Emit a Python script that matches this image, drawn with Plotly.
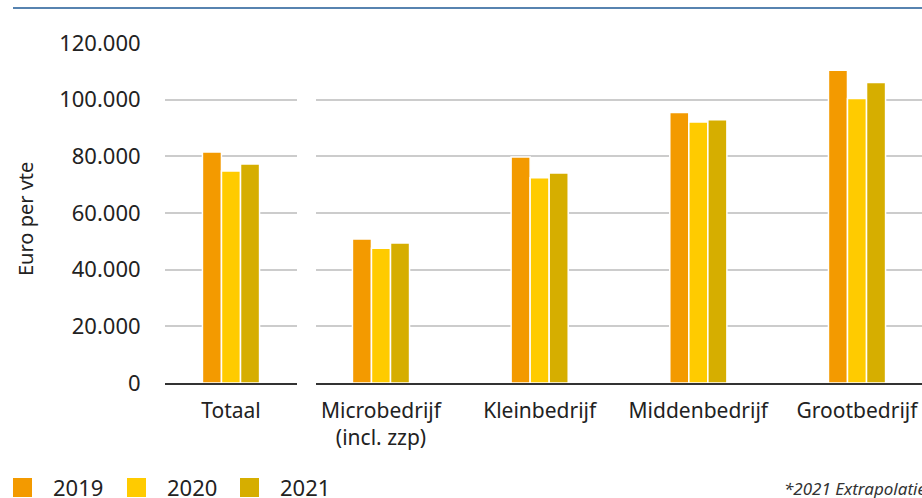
import plotly.graph_objects as go

years = ["2019", "2020", "2021"]
colors = ["#F39A00", "#FFCB00", "#D6AE00"]
cat_total = ["Totaal"]
cat_size = ["Microbedrijf<br>(incl. zzp)", "Kleinbedrijf", "Middenbedrijf", "Grootbedrijf"]
total_vals = {"2019": [81500], "2020": [74800], "2021": [77300]}
size_vals = {
    "2019": [50800, 79800, 95500, 110400],
    "2020": [47600, 72400, 92100, 100400],
    "2021": [49400, 74100, 92900, 106100],
}
y_ticks = [0, 20000, 40000, 60000, 80000, 100000, 120000]
y_ticktext = ["0", "20.000", "40.000", "60.000", "80.000", "100.000", "120.000"]
y_title = "Euro per vte"
footnote = "*2021 Extrapolatie"

FONT = "Noto Sans"
W, H = 922, 498
L, R, T, B = 165, 0, 43, 115
pw = W - L - R
ph = H - T - B


def px_x(px):
    return (px - L) / pw


def px_y(py):
    return (H - B - py) / ph


fig = go.Figure()
for yr, col in zip(years, colors):
    fig.add_trace(go.Bar(x=cat_total, y=total_vals[yr], name=yr, marker_color=col,
                         marker_line_color="white", marker_line_width=1.5,
                         xaxis="x", yaxis="y", showlegend=False))
    fig.add_trace(go.Bar(x=cat_size, y=size_vals[yr], name=yr, marker_color=col,
                         marker_line_color="white", marker_line_width=1.5,
                         xaxis="x2", yaxis="y2", showlegend=False))

unit = 158.7
xfont = dict(family=FONT, size=21, color="#222")
yfont = dict(family=FONT, size=22, color="#222")
fig.update_layout(
    width=W, height=H,
    margin=dict(l=L, r=R, t=T, b=B, autoexpand=False),
    paper_bgcolor="white", plot_bgcolor="white",
    barmode="group", bargap=0.64, bargroupgap=0,
    font=dict(family=FONT, size=20, color="#222"),
    showlegend=False,
    xaxis=dict(domain=[0, px_x(297)], range=[-66 / unit, 66 / unit], showgrid=False,
               showline=True, linecolor="#333", linewidth=1.5, tickfont=xfont,
               ticks="outside", ticklen=8, tickcolor="rgba(0,0,0,0)", anchor="y",
               automargin=False),
    xaxis2=dict(domain=[px_x(316), 1], range=[-65 / unit, 3 + 65 / unit], showgrid=False,
                showline=True, linecolor="#333", linewidth=1.5, tickfont=xfont,
                ticks="outside", ticklen=8, tickcolor="rgba(0,0,0,0)", anchor="y2",
                automargin=False),
    yaxis=dict(range=[0, 120000], tickvals=y_ticks, ticktext=y_ticktext,
               showgrid=True, gridcolor="#CCCCCC", gridwidth=1.5, zeroline=False,
               tickfont=yfont, ticks="outside", ticklen=19, tickcolor="rgba(0,0,0,0)",
               anchor="x", automargin=False),
    yaxis2=dict(range=[0, 120000], tickvals=y_ticks, showticklabels=False,
                showgrid=True, gridcolor="#CCCCCC", gridwidth=1.5, zeroline=False,
                anchor="x2", matches="y", automargin=False),
)

shapes = [dict(type="line", xref="paper", yref="paper",
               x0=px_x(13), x1=1, y0=px_y(8), y1=px_y(8),
               line=dict(color="#1F5A96", width=1.5))]
annotations = [
    dict(text=y_title, xref="paper", yref="paper", x=px_x(26), y=px_y(219),
         textangle=-90, showarrow=False, xanchor="center", yanchor="middle",
         font=dict(family=FONT, size=20, color="#222")),
    dict(text="<i>" + footnote + "</i>", xref="paper", yref="paper",
         x=px_x(782), y=px_y(488), xanchor="left", yanchor="middle",
         showarrow=False, font=dict(family=FONT, size=17, color="#333")),
]
# manual legend
leg_x = [13, 127, 240]
for lx, yr, col in zip(leg_x, years, colors):
    shapes.append(dict(type="rect", xref="paper", yref="paper",
                       x0=px_x(lx), x1=px_x(lx + 19), y0=px_y(497), y1=px_y(478),
                       fillcolor=col, line=dict(width=0)))
    annotations.append(dict(text=yr, xref="paper", yref="paper", x=px_x(lx + 38),
                            y=px_y(487), xanchor="left", yanchor="middle",
                            showarrow=False, font=dict(family=FONT, size=22, color="#222")))
fig.update_layout(shapes=shapes, annotations=annotations)
fig.write_html("out.html", config={"displayModeBar": False},
               post_script="document.body.style.margin='0';document.body.style.overflow='hidden';")
